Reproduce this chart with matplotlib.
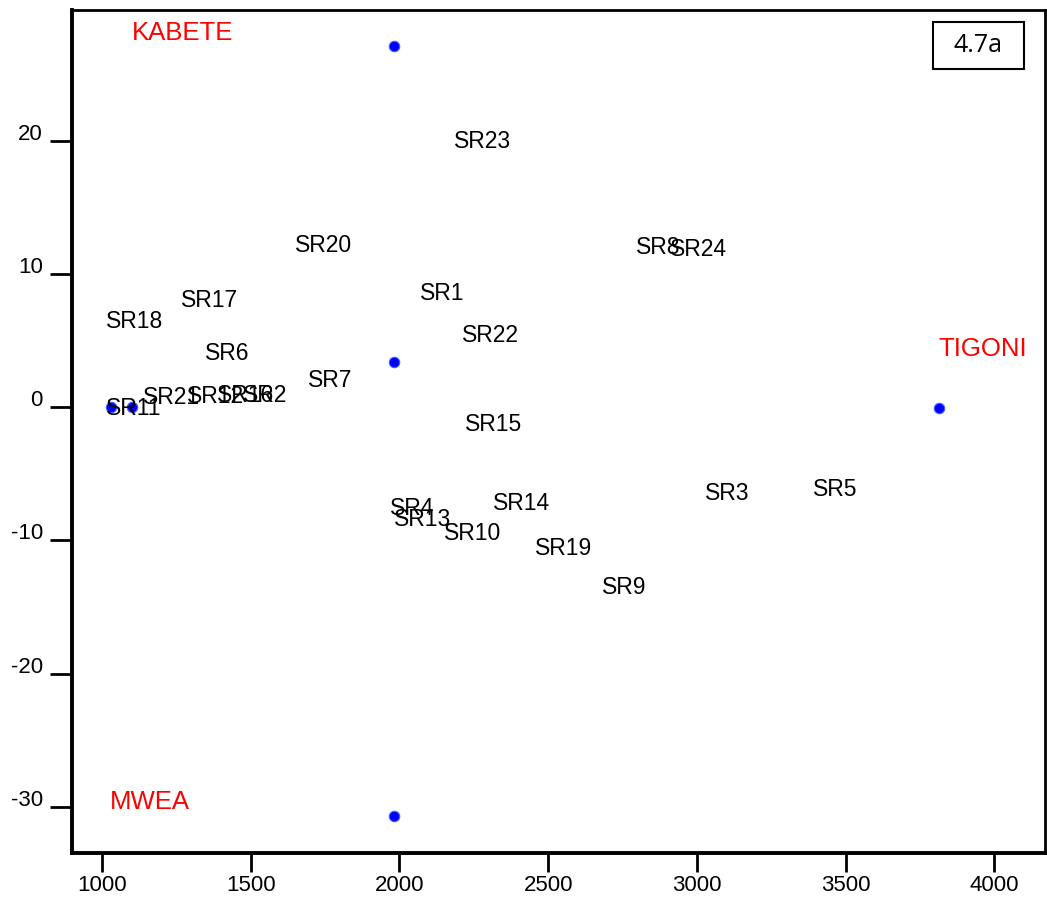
import matplotlib.pyplot as plt
from matplotlib.patches import Rectangle
from matplotlib.transforms import ScaledTranslation

plt.rcParams["font.family"] = ["Liberation Sans", "DejaVu Sans"]
plt.rcParams["axes.unicode_minus"] = False

# sample labels (text placed at their ordination scores)
sites = ["SR23", "SR20", "SR8", "SR24", "SR1", "SR17", "SR18", "SR22", "SR6",
         "SR7", "SR11", "SR21", "SR12", "SR16", "SR2", "SR15", "SR4", "SR13",
         "SR10", "SR14", "SR19", "SR9", "SR3", "SR5"]
site_x = [2278, 1746, 2870, 3004, 2143, 1360, 1108, 2305, 1420,
          1767, 1108, 1235, 1380, 1481, 1548, 2318, 2042, 2079,
          2247, 2412, 2553, 2755, 3102, 3465]
site_y = [19.9, 12.15, 12.0, 11.8, 8.5, 8.0, 6.4, 5.4, 4.05,
          2.0, -0.1, 0.75, 0.8, 0.9, 0.9, -1.3, -7.6, -8.4,
          -9.5, -7.2, -10.6, -13.5, -6.45, -6.15]

# location names
places = ["KABETE", "TIGONI", "MWEA"]
place_x = [1269, 3962, 1161]
place_y = [28.1, 4.35, -29.6]

# plotted points
pt_x = [1982, 1982, 1982, 3814, 1030, 1101]
pt_y = [27.1, 3.4, -30.7, -0.1, 0.0, 0.0]

fig = plt.figure(figsize=(10.47, 8.98), dpi=100)
ax = fig.add_axes([0.0688, 0.0501, 0.9294, 0.9388])

ax.plot(pt_x, pt_y, "o", color="#0000ff", markersize=7.5,
        markeredgecolor="#4060ff", markeredgewidth=0.8, zorder=3)

for name, x, y in zip(sites, site_x, site_y):
    ax.text(x, y, name, ha="center", va="center", fontsize=16.5, color="black")

for name, x, y in zip(places, place_x, place_y):
    ax.text(x, y, name, ha="center", va="center", fontsize=18.5, color="#ff0000")

ax.set_xlim(899, 4171)
ax.set_ylim(-33.45, 29.8)
ax.set_xticks([1000, 1500, 2000, 2500, 3000, 3500, 4000])
ax.set_yticks([-30, -20, -10, 0, 10, 20])

for side in ["left", "bottom"]:
    ax.spines[side].set_linewidth(2.8)
for side in ["top", "right"]:
    ax.spines[side].set_linewidth(2.0)

ax.tick_params(axis="x", direction="out", length=14, width=2, labelsize=16,
               pad=2)
ax.tick_params(axis="y", direction="out", length=16, width=2, labelsize=16,
               pad=5)

# y labels sit a little above their ticks
lift = ScaledTranslation(0, 9 / 100, fig.dpi_scale_trans)
for lbl in ax.get_yticklabels():
    lbl.set_transform(lbl.get_transform() + lift)

# panel tag
ax.add_patch(Rectangle((0.885, 0.930), 0.093, 0.0558, transform=ax.transAxes,
                       facecolor="white", edgecolor="black", linewidth=1.5,
                       zorder=4))
ax.text(0.9315, 0.958, "4.7a", transform=ax.transAxes, ha="center",
        va="center", fontsize=18, family=["Open Sans", "DejaVu Sans"],
        zorder=5)

fig.savefig("out.png", dpi=100)
